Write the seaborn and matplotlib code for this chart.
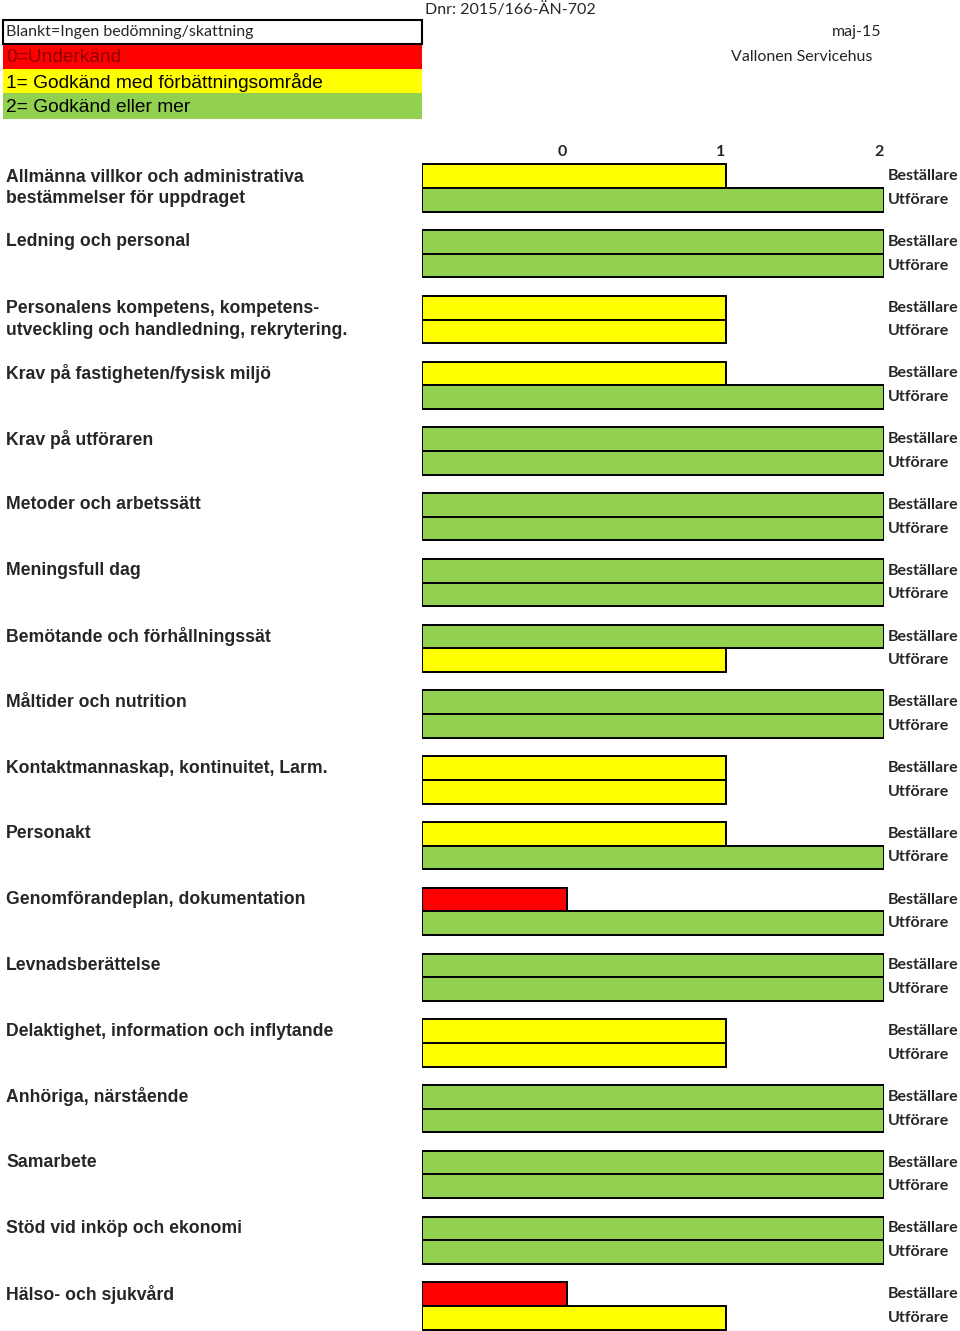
import numpy as np
import pandas as pd
import matplotlib
matplotlib.use("Agg")
import matplotlib.pyplot as plt
import matplotlib.transforms as mtransforms
from matplotlib.patches import Rectangle
import seaborn as sns

# Områden (categories) and scores: 0=Underkänd, 1=Godkänd med förb., 2=Godkänd
omraden = [
    "Allmänna villkor och administrativa\nbestämmelser för uppdraget",
    "Ledning och personal",
    "Personalens kompetens, kompetens-\nutveckling och handledning, rekrytering.",
    "Krav på fastigheten/fysisk miljö",
    "Krav på utföraren",
    "Metoder och arbetssätt",
    "Meningsfull dag",
    "Bemötande och förhållningssät",
    "Måltider och nutrition",
    "Kontaktmannaskap, kontinuitet, Larm.",
    "Personakt",
    "Genomförandeplan, dokumentation",
    "Levnadsberättelse",
    "Delaktighet, information och inflytande",
    "Anhöriga, närstående",
    "Samarbete",
    "Stöd vid inköp och ekonomi",
    "Hälso- och sjukvård",
]
bestallare = [1, 2, 1, 1, 2, 2, 2, 2, 2, 1, 1, 0, 2, 1, 2, 2, 2, 0]
utforare = [2, 2, 1, 2, 2, 2, 2, 1, 2, 1, 2, 2, 2, 1, 2, 2, 2, 1]
roller = ["Beställare", "Utförare"]
score_ticks = [0, 1, 2]

legend_rows = [
    ("Blankt=Ingen bedömning/skattning", "white"),
    ("0=Underkänd", "#FF0000"),
    ("1= Godkänd med förbättningsområde", "#FFFF00"),
    ("2= Godkänd eller mer", "#92D050"),
]

score_colors = {0: "#FF0000", 1: "#FFFF00", 2: "#92D050"}
base = 0.915  # bars start a bit left of the "0" mark, like the Excel sheet

df = pd.DataFrame({
    "omrade": omraden * 2,
    "roll": [roller[0]] * len(omraden) + [roller[1]] * len(omraden),
    "poang": bestallare + utforare,
})
df["langd"] = df["poang"] + base

sns.set_style("white")
plt.rcParams["font.family"] = ["Liberation Sans", "DejaVu Sans"]

W, H = 960, 1331
fig = plt.figure(figsize=(W / 100, H / 100), dpi=100)

# main bar axes, in pixel-derived figure fractions
ax_left, ax_right = 422, 884
ax_top, ax_bot = 160, 1331
ax = fig.add_axes([ax_left / W, 1 - ax_bot / H, (ax_right - ax_left) / W, (ax_bot - ax_top) / H])

sns.barplot(data=df, y="omrade", x="langd", hue="roll", hue_order=roller,
            orient="h", dodge=True, width=0.72, ax=ax, legend=False,
            edgecolor="black", linewidth=1.4, errorbar=None)

# colour each bar by its score
for cont, roll in zip(ax.containers, roller):
    scores = df[df["roll"] == roll]["poang"].tolist()
    for patch, s in zip(cont.patches, scores):
        patch.set_facecolor(score_colors[s])

n = len(omraden)
ax.set_xlim(0, 2 + base)
ax.set_ylim(n - 1 + 0.38, -0.4255)
for sp in ax.spines.values():
    sp.set_visible(False)
ax.set_ylabel("")
ax.set_xlabel("")
ax.set_yticks([])
ax.xaxis.tick_top()
ax.set_xticks([s + base for s in score_ticks])
ax.set_xticklabels([str(s) for s in score_ticks], fontfamily="Lato",
                   fontweight="bold", fontsize=11.5, ha="right")
ax.tick_params(axis="x", length=0, pad=0.5)
ax.grid(False)

# category labels on the left, role labels on the right
lab_tr = mtransforms.blended_transform_factory(fig.transFigure, ax.transData)
for k, name in enumerate(omraden):
    y = k if "\n" in name else k - 0.18
    ax.text(6 / W, y, name, transform=lab_tr, ha="left", va="center",
            fontsize=12.7, fontweight="bold", linespacing=1.38, clip_on=False)
    for off, roll in zip([-0.18, 0.18], roller):
        ax.text(888 / W, k + off, roll, transform=lab_tr, ha="left", va="center",
                fontsize=11.5, fontweight="bold", fontfamily="Lato", clip_on=False)

# legend box at the top left
row_tops = [20, 45, 69, 93]
row_h = [24, 24, 24, 26]
for (txt, col), top, h in zip(legend_rows, row_tops, row_h):
    edge = "black" if col == "white" else "none"
    fig.patches.append(Rectangle((3 / W, 1 - (top + h) / H), 419 / W, h / H,
                                 transform=fig.transFigure, facecolor=col,
                                 edgecolor=edge, linewidth=1.5))
    if col == "white":
        fig.text(6 / W, 1 - (top + h / 2) / H, txt, ha="left", va="center",
                 fontsize=11.5, fontfamily="Lato")
    else:
        tcol = "#8A0000" if col == "#FF0000" else "black"
        fig.text(6 / W, 1 - (top + h / 2 + 1) / H, txt, ha="left", va="center",
                 fontsize=13.8, color=tcol)

# header texts
fig.text(425 / W, 1 - 10 / H, "Dnr: 2015/166-ÄN-702", ha="left", va="center",
         fontsize=11.5, fontfamily="Lato")
fig.text(881 / W, 1 - 32 / H, "maj-15", ha="right", va="center",
         fontsize=11.5, fontfamily="Lato")
fig.text(872 / W, 1 - 57 / H, "Vallonen Servicehus", ha="right", va="center",
         fontsize=11.5, fontfamily="Lato")

fig.savefig("out.png", dpi=100)
